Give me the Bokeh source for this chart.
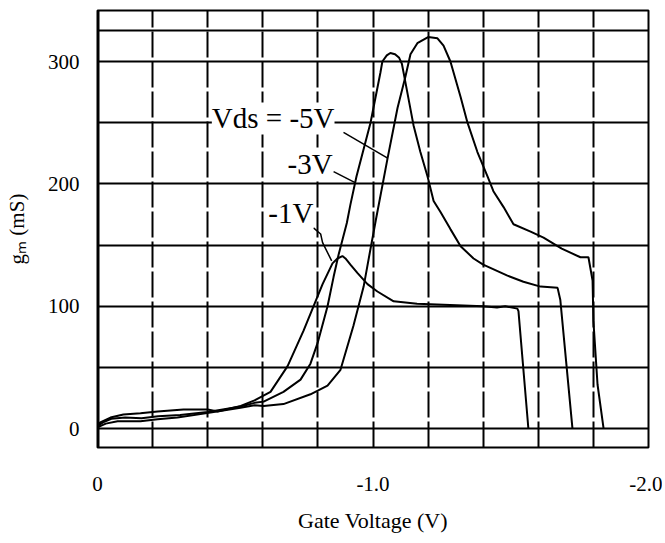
from bokeh.plotting import figure
from bokeh.models import Range1d, FixedTicker, Label, Span
from bokeh.embed import file_html
from bokeh.resources import INLINE

# ---- data (gate voltage in V, gm in mS) ----
vgs_1v = [0, -0.01, -0.047, -0.094, -0.156, -0.218, -0.312, -0.40, -0.436, -0.52, -0.57, -0.628,
          -0.69, -0.748, -0.817, -0.853, -0.871, -0.889, -0.90, -0.918, -0.944, -0.98, -1.016,
          -1.075, -1.16, -1.28, -1.40, -1.45, -1.48, -1.524, -1.528, -1.564]
gm_1v = [2, 5, 9, 11.5, 12.5, 14, 15.5, 15.5, 14, 18.5, 23, 30,
         51, 80, 118, 135, 139, 141, 139, 134, 127, 118, 112,
         104, 102, 101, 100, 99, 100, 98, 96, 0]

vgs_3v = [0, -0.02, -0.05, -0.10, -0.16, -0.22, -0.30, -0.40, -0.52, -0.57, -0.603, -0.675,
          -0.737, -0.773, -0.799, -0.835, -0.857, -0.875, -0.905, -0.918, -0.94, -0.991,
          -1.027, -1.034, -1.05, -1.063, -1.08, -1.095, -1.105, -1.116, -1.147, -1.172, -1.198,
          -1.22, -1.245, -1.281, -1.318, -1.365, -1.40, -1.488, -1.546, -1.608, -1.67, -1.68, -1.724]
gm_3v = [2, 5, 8, 9, 8.5, 10, 11, 13.5, 18, 21, 22, 30,
         40, 53, 70, 100, 124, 142, 168, 183, 206, 250,
         291, 300, 305, 307, 306, 303, 298, 285, 248, 226, 206,
         186, 177, 163, 149, 139, 134, 125, 120, 116, 115, 105, 0]

vgs_5v = [0, -0.03, -0.073, -0.156, -0.218, -0.29, -0.41, -0.519, -0.57, -0.603, -0.675, -0.773,
          -0.835, -0.882, -0.929, -0.966, -0.991, -1.01, -1.053, -1.089, -1.118, -1.136, -1.161,
          -1.20, -1.234, -1.256, -1.281, -1.318, -1.343, -1.379, -1.416, -1.437, -1.474, -1.51,
          -1.572, -1.619, -1.685, -1.753, -1.782, -1.797, -1.80, -1.815, -1.837]
gm_5v = [1, 4, 6, 6, 7.5, 9, 13, 17, 19, 18.5, 20, 28,
         35, 48, 84, 116, 147, 170, 221, 262, 288, 306, 315,
         320, 319, 313, 300, 271, 250, 226, 206, 194, 181, 167,
         161, 156, 147, 140, 140, 121, 88, 36, 0]

x_grid_ticks = [0, -0.2, -0.4, -0.6, -0.8, -1.0, -1.2, -1.4, -1.6, -1.8, -2.0]
y_grid_ticks = [0, 50, 100, 150, 200, 250, 300, 325]
x_tick_values = [0, -1, -2]
x_tick_labels = ["0", "-1.0", "-2.0"]
y_tick_values = [0, 100, 200, 300]

series_labels = ["Vds = -5V", "-3V", "-1V"]

SERIF = "Liberation Serif"

p = figure(frame_width=551, frame_height=437,
           x_range=Range1d(0, -2.0), y_range=Range1d(-15.5, 341.7),
           output_backend="svg", toolbar_location=None,
           min_border_left=97, min_border_right=14, min_border_top=10, min_border_bottom=90,
           x_axis_label="Gate Voltage (V)", y_axis_label="gₘ (mS)")

p.background_fill_color = "white"
p.border_fill_color = "white"
p.outline_line_color = "black"
p.outline_line_width = 2

# grids
p.xgrid.ticker = FixedTicker(ticks=x_grid_ticks)
p.ygrid.ticker = FixedTicker(ticks=y_grid_ticks)
p.xgrid.grid_line_color = "black"
p.xgrid.grid_line_width = 2
p.xgrid.grid_line_dash = "26 4"
p.ygrid.grid_line_color = "black"
p.ygrid.grid_line_width = 2

# axes
p.xaxis.ticker = FixedTicker(ticks=x_tick_values)
p.xaxis.major_label_overrides = dict(zip(x_tick_values, x_tick_labels))
p.yaxis.ticker = FixedTicker(ticks=y_tick_values)
for ax in (p.xaxis[0], p.yaxis[0]):
    ax.axis_line_color = None
    ax.major_tick_line_color = None
    ax.minor_tick_line_color = None
    ax.major_label_text_font = SERIF
    ax.major_label_text_font_size = "21px"
    ax.major_label_text_color = "black"
    ax.axis_label_text_font = SERIF
    ax.axis_label_text_font_style = "normal"
    ax.axis_label_text_color = "black"
p.xaxis.major_label_standoff = 23
p.xaxis.axis_label_standoff = 14
p.xaxis.axis_label_text_font_size = "22px"
p.yaxis.major_label_standoff = 12
p.yaxis.axis_label_standoff = 16
p.yaxis.axis_label_text_font_size = "21px"

# thick left border (scan)
p.add_layout(Span(location=0, dimension="height", line_color="black", line_width=4))

# curves
for xs, ys in ((vgs_1v, gm_1v), (vgs_3v, gm_3v), (vgs_5v, gm_5v)):
    p.line(xs, ys, line_color="black", line_width=2)

# pointer lines for the curve labels
ptr_5v = ([-0.893, -1.053], [242, 221])
ptr_3v = ([-0.857, -0.935], [210, 201])
ptr_1v = ([-0.784, -0.81, -0.817, -0.85], [164, 159, 152, 137])
for px, py in (ptr_5v, ptr_3v, ptr_1v):
    p.line(px, py, line_color="black", line_width=1.5)

# curve labels (white background like the original)
label_pos = [(-0.415, 253.5), (-0.69, 216), (-0.62, 176)]
for txt, (lx, ly) in zip(series_labels, label_pos):
    p.add_layout(Label(x=lx, y=ly, text=txt, text_font=SERIF, text_font_size="29px",
                       text_align="left", text_baseline="middle", text_color="black",
                       background_fill_color="white", background_fill_alpha=1.0))

open("out.html", "w").write(file_html(p, INLINE))
